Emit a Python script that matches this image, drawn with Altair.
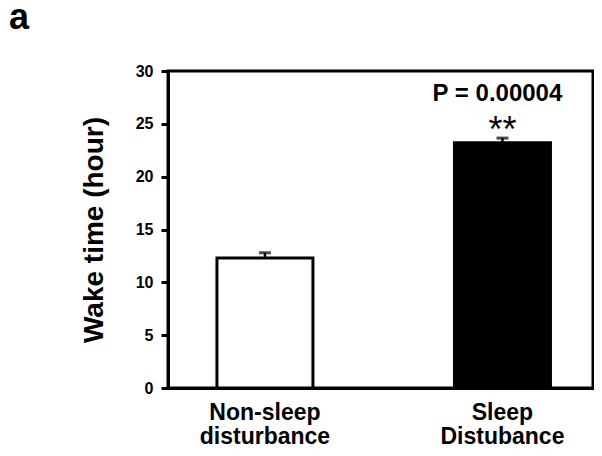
import altair as alt
import pandas as pd

categories = ["Non-sleep\ndisturbance", "Sleep\nDistubance"]
means = [12.3, 23.2]
errors = [0.5, 0.45]
fills = ["white", "black"]
p_label = "P = 0.00004"
star_label = "**"

df = pd.DataFrame({
    "group": categories,
    "mean": means,
    "err": errors,
    "fill": fills,
})
df["top"] = df["mean"] + df["err"]

x_scale = alt.Scale(paddingInner=0.5958, paddingOuter=0.1926, align=0.535)

x_enc = alt.X(
    "group:N",
    sort=categories,
    scale=x_scale,
    axis=alt.Axis(
        title=None,
        labelAngle=0,
        ticks=False,
        tickSize=0,
        labelPadding=13,
        labelFont="Liberation Sans",
        labelFontSize=23,
        labelFontWeight="bold",
        labelColor="black",
        labelLineHeight=24,
        labelBaseline="top",
        labelExpr="split(datum.label, '\\n')",
        domainColor="black",
        domainWidth=3,
    ),
)

y_scale = alt.Scale(domain=[0, 30], nice=False)

bars = alt.Chart(df).mark_bar(stroke="black", strokeWidth=3).encode(
    x=x_enc,
    y=alt.Y(
        "mean:Q",
        scale=y_scale,
        axis=alt.Axis(
            title="Wake time (hour)",
            values=[0, 5, 10, 15, 20, 25, 30],
            grid=False,
            tickSize=7,
            tickWidth=3,
            tickColor="black",
            labelPadding=8,
            labelFont="Liberation Sans",
            labelFontSize=16,
            labelFontWeight="bold",
            labelColor="black",
            titleFont="Liberation Sans",
            titleFontSize=28,
            titleFontWeight="bold",
            titleColor="black",
            titlePadding=27,
            domainColor="black",
            domainWidth=3,
        ),
    ),
    fill=alt.Fill("fill:N", scale=None),
)

stems = alt.Chart(df).mark_rule(color="black", strokeWidth=2.5).encode(
    x=alt.X("group:N", sort=categories, scale=x_scale),
    y=alt.Y("mean:Q", scale=y_scale),
    y2="top:Q",
)

caps = alt.Chart(df).mark_tick(color="black", thickness=3, size=12, orient="horizontal").encode(
    x=alt.X("group:N", sort=categories, scale=x_scale),
    y=alt.Y("top:Q", scale=y_scale),
)

stars = alt.Chart(df[df["group"] == categories[1]]).mark_text(
    text=star_label, font="Liberation Sans", fontSize=36, color="black",
    baseline="alphabetic", dy=4,
).encode(
    x=alt.X("group:N", sort=categories, scale=x_scale),
    y=alt.Y("top:Q", scale=y_scale),
)

ptext = alt.Chart(df[df["group"] == categories[1]]).mark_text(
    text=p_label, font="Liberation Sans", fontSize=24, fontWeight="bold", color="black",
    baseline="alphabetic", dy=-37, dx=-5,
).encode(
    x=alt.X("group:N", sort=categories, scale=x_scale),
    y=alt.Y("top:Q", scale=y_scale),
)

chart = alt.layer(bars, stems, caps, stars, ptext).properties(
    width=425,
    height=317,
    autosize=alt.AutoSizeParams(type="none"),
    padding={"left": 160, "top": 63, "right": 1, "bottom": 60},
    title=alt.TitleParams(
        "a", anchor="start", frame="group", fontSize=36, fontWeight="bold",
        font="Liberation Sans", color="black", dx=-159, dy=-22,
    ),
).configure_view(stroke="black", strokeWidth=3).configure_axis(
    domainCap="square"
)

chart.save("out.html", embed_options={"renderer": "svg", "actions": False})
